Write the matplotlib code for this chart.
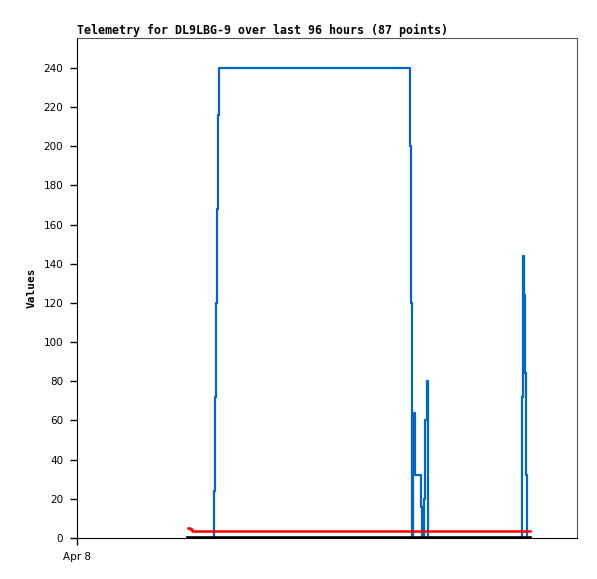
import matplotlib
matplotlib.use("Agg")
import matplotlib.pyplot as plt

# hours since Apr 8 00:00
blueTimes = [21.31, 26.30, 26.50, 26.69, 26.88, 27.07, 27.26, 63.84, 64.13, 64.32,
             64.51, 64.61, 64.80, 64.90, 66.05, 66.24, 66.62, 66.91, 67.20, 67.39,
             85.44, 85.63, 85.82, 86.02, 86.21, 86.40, 86.98]
blueValues = [0, 24, 72, 120, 168, 216, 240, 200, 120, 0,
              48, 40, 64, 32, 16, 0, 20, 60, 80, 0,
              72, 144, 124, 84, 32, 0, 0]

redTimes = [21.31, 21.70, 22.08, 86.98]
redValues = [4.9, 4.4, 3.8, 3.8]

blackTimes = [21.31, 86.98]
blackValues = [0, 0]

yTicks = list(range(0, 241, 20))
xTicks = [0]
xTickLabels = ["Apr 8"]
titleText = "Telemetry for DL9LBG-9 over last 96 hours (87 points)"

fig = plt.figure(figsize=(5.97, 5.79), dpi=100)
ax = fig.add_axes([77 / 597, 41 / 579, 500 / 597, 500 / 579])

ax.step(blueTimes, blueValues, where="post", color="#0066cc", lw=1.6)
ax.step(redTimes, redValues, where="post", color="#ff0000", lw=1.8)
ax.plot(blackTimes, blackValues, color="black", lw=2.6)

ax.set_xlim(0, 96)
ax.set_ylim(0, 255.3)
ax.set_yticks(yTicks)
ax.set_xticks(xTicks)
ax.set_xticklabels(xTickLabels)
ax.tick_params(direction="out", length=5, width=1, labelsize=7.5, pad=5)

for side in ["left", "bottom"]:
    ax.spines[side].set_color("black")
for side in ["top", "right"]:
    ax.spines[side].set_color("#555555")

ax.set_title(titleText, loc="left", fontsize=8.35, fontweight="bold",
             family="DejaVu Sans Mono", pad=3)
ax.set_ylabel("Values", fontsize=8, fontweight="bold", family="DejaVu Sans Mono", labelpad=5)

fig.savefig("out.png", dpi=100)
